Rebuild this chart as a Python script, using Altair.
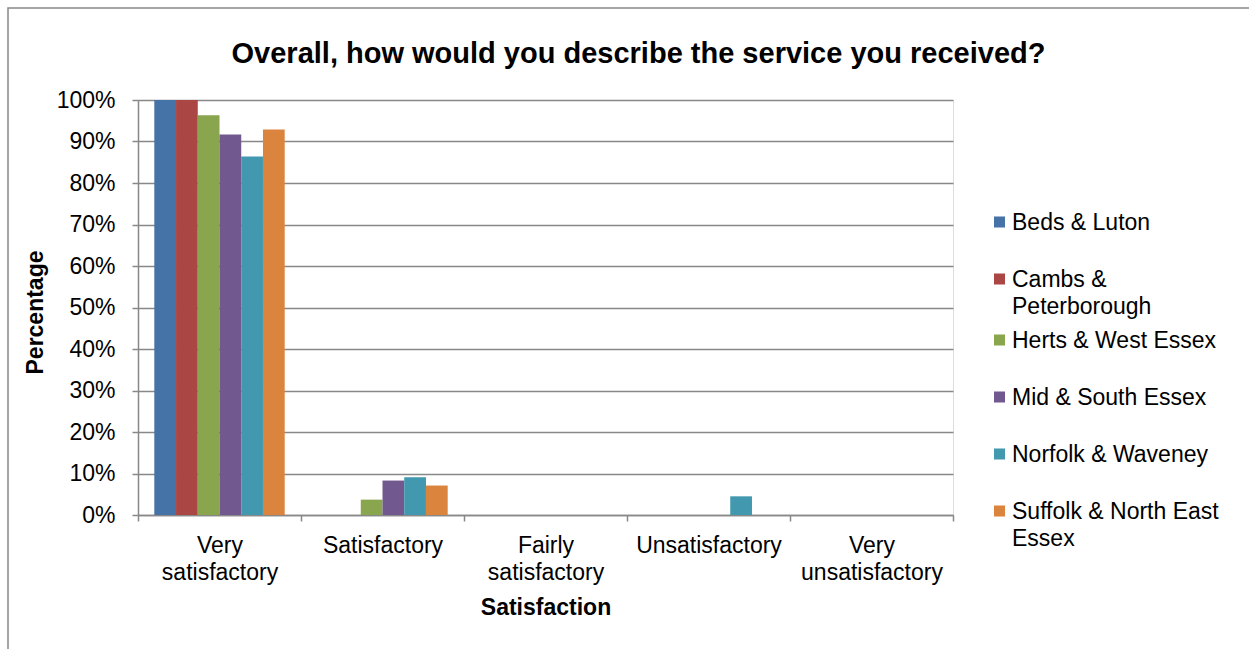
import altair as alt
import pandas as pd

categories = ["Very satisfactory", "Satisfactory", "Fairly satisfactory",
              "Unsatisfactory", "Very unsatisfactory"]
regions = ["Beds & Luton", "Cambs & Peterborough", "Herts & West Essex",
           "Mid & South Essex", "Norfolk & Waveney", "Suffolk & North East Essex"]

beds_luton = [100.0, 0.0, 0.0, 0.0, 0.0]
cambs_peterborough = [100.0, 0.0, 0.0, 0.0, 0.0]
herts_west_essex = [96.3, 3.7, 0.0, 0.0, 0.0]
mid_south_essex = [91.7, 8.3, 0.0, 0.0, 0.0]
norfolk_waveney = [86.4, 9.1, 0.0, 4.5, 0.0]
suffolk_ne_essex = [92.9, 7.1, 0.0, 0.0, 0.0]

colors = ["#4572A7", "#AA4643", "#89A54E", "#71588F", "#4198AF", "#DB843D"]
y_ticks = [0, 0.1, 0.2, 0.3, 0.4, 0.5, 0.6, 0.7, 0.8, 0.9, 1.0]

series = [beds_luton, cambs_peterborough, herts_west_essex,
          mid_south_essex, norfolk_waveney, suffolk_ne_essex]
rows = []
for reg, vals in zip(regions, series):
    for cat, v in zip(categories, vals):
        rows.append({"Satisfaction": cat, "Region": reg, "Percentage": v / 100.0})
df = pd.DataFrame(rows)

FONT = "Liberation Sans"
GRID = "#888888"
# square legend symbol, raised so it lines up with the first text line
LEGEND_SQUARE = "M-1,-2.5L1,-2.5L1,-0.5L-1,-0.5Z"

x_label_expr = ("isString(datum.label) && indexof(datum.label, ' ') > 0 ? "
                "split(datum.label, ' ') : datum.label")
legend_label_expr = ("datum.label == 'Cambs & Peterborough' ? ['Cambs &', 'Peterborough'] : "
                     "datum.label == 'Suffolk & North East Essex' ? ['Suffolk & North East', 'Essex'] : "
                     "datum.label")

bars = alt.Chart(df).mark_bar().encode(
    x=alt.X("Satisfaction:N", sort=categories,
            scale=alt.Scale(paddingInner=0, paddingOuter=0),
            axis=alt.Axis(title="Satisfaction", labelAngle=0, labelExpr=x_label_expr,
                          labelFontSize=23, labelFont=FONT, labelColor="black",
                          labelLineHeight=27, labelBaseline="top", labelPadding=13,
                          labelLimit=400,
                          tickBand="extent", tickSize=6, tickColor=GRID, tickWidth=1.5,
                          domainColor=GRID, domainWidth=1.5, grid=False,
                          titleFont=FONT, titleFontSize=23, titleFontWeight="bold",
                          titleColor="black", titleBaseline="alphabetic", titleY=99)),
    xOffset=alt.XOffset("Region:N", sort=regions,
                        scale=alt.Scale(paddingInner=0, paddingOuter=0.75)),
    y=alt.Y("Percentage:Q", scale=alt.Scale(domain=[0, 1]),
            axis=alt.Axis(title="Percentage", format=".0%", values=y_ticks,
                          labelFontSize=23, labelFont=FONT, labelColor="black",
                          labelPadding=17, tickSize=6, tickColor=GRID, tickWidth=1.5,
                          domainColor=GRID, domainWidth=1.5,
                          grid=True, gridColor=GRID, gridWidth=1.5,
                          titleFont=FONT, titleFontSize=23, titleFontWeight="bold",
                          titleColor="black", titleBaseline="alphabetic",
                          titleAngle=-90, titleX=-96, titleY=212, titleAlign="center")),
    color=alt.Color("Region:N", sort=regions,
                    scale=alt.Scale(domain=regions, range=colors),
                    legend=alt.Legend(title=None, orient="none", legendX=850, legendY=102,
                                      symbolType=LEGEND_SQUARE, symbolSize=121,
                                      symbolStrokeWidth=0, labelFontSize=23,
                                      labelFont=FONT, labelColor="black", labelOffset=1,
                                      labelBaseline="alphabetic",
                                      labelLimit=400, labelExpr=legend_label_expr,
                                      clipHeight=56.3, rowPadding=0, padding=0)),
)

frame = alt.Chart(pd.DataFrame({"f": [0]})).mark_rect(
    fillOpacity=0, stroke="#888888", strokeWidth=1.5, clip=False
).encode(x=alt.value(-130), x2=alt.value(1400), y=alt.value(-92), y2=alt.value(900))

chart = alt.layer(frame, bars).properties(
    width=815, height=415,
    autosize=alt.AutoSizeParams(type="none"),
    padding={"left": 138, "top": 100, "right": 296, "bottom": 134},
    title=alt.Title("Overall, how would you describe the service you received?",
                    font=FONT, fontSize=29, fontWeight="bold", color="black",
                    anchor="middle", dx=93, dy=113, baseline="alphabetic", offset=28),
).configure_view(stroke=None).configure(style={"guide-label": {"lineHeight": 27}})

chart.save("out.html", embed_options={"renderer": "svg", "actions": False})
